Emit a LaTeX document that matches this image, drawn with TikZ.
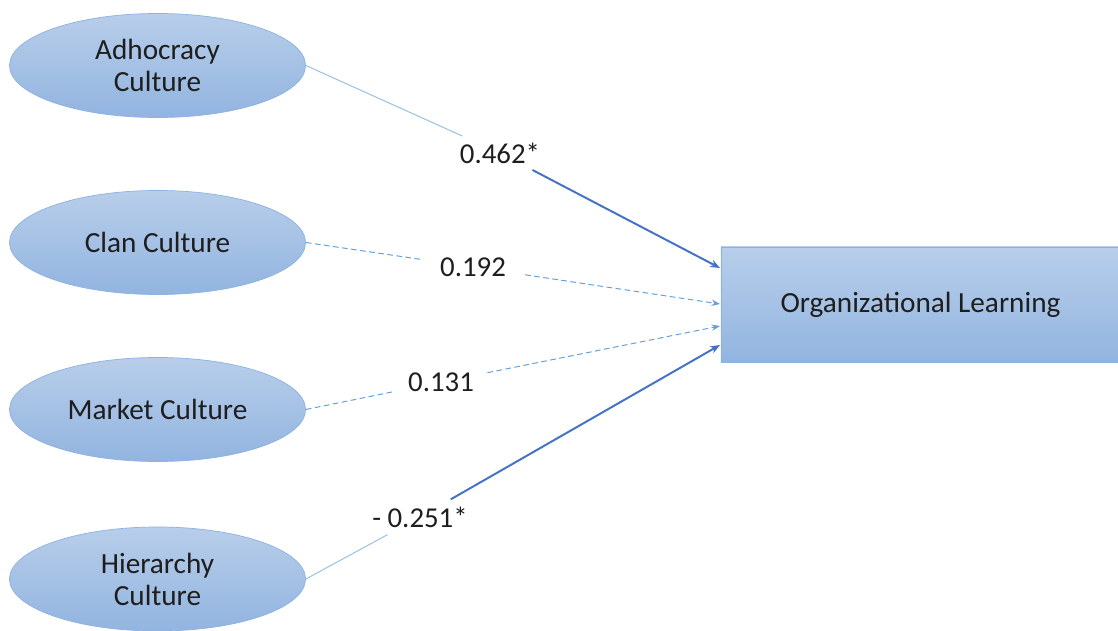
\documentclass[tikz,border=0pt]{standalone}
\usepackage{fontspec}
\setmainfont{Carlito}
\usetikzlibrary{arrows.meta,shapes.geometric}
\definecolor{ftop}{RGB}{184,206,234}
\definecolor{fbot}{RGB}{146,180,224}
\definecolor{edgeblue}{RGB}{140,178,225}
\definecolor{liteblue}{RGB}{157,195,230}
\definecolor{darkblue}{RGB}{68,114,196}
\definecolor{dashblue}{RGB}{100,160,215}
\definecolor{txt}{RGB}{30,30,30}
\begin{document}
\begin{tikzpicture}[x=0.025cm,y=-0.025cm,
  culture/.style={ellipse, draw=edgeblue, line width=0.5pt, top color=ftop, bottom color=fbot,
    minimum width=7.4cm, minimum height=2.6cm, inner sep=0pt, align=center,
    font=\fontsize{20.8}{22.7}\selectfont, text=txt},
  outcome/.style={rectangle, draw=edgeblue, line width=0.5pt, top color=ftop, bottom color=fbot,
    minimum width=9.975cm, minimum height=2.875cm, inner sep=0pt,
    font=\fontsize{20.8}{24}\selectfont, text=txt},
  coef/.style={inner sep=0pt, font=\fontsize{20.5}{24}\selectfont, text=txt},
  thinlink/.style={draw=liteblue, line width=0.75pt},
  thicklink/.style={draw=darkblue, line width=1.4pt, -{Stealth[length=7pt,width=5.5pt]}},
  dashlink/.style={draw=dashblue, line width=0.7pt, dash pattern=on 4pt off 2.5pt},
  dasharrow/.style={dashlink, -{Stealth[length=6pt,width=4.5pt]}}
]
\useasboundingbox (0,0) rectangle (1118,631);

\node[culture] (adh) at (157.5,65.5) {Adhocracy\\Culture};
\node[culture] (clan) at (157.5,242.5) {Clan Culture};
\node[culture] (mkt) at (157.5,409.5) {Market Culture};
\node[culture] (hier) at (157.5,579) {Hierarchy\\Culture};

\node[outcome] (ol) at (920.5,304.5) {Organizational Learning};

\coordinate (e1) at (720,268);
\coordinate (e2) at (720,304);
\coordinate (e3) at (720,326);
\coordinate (e4) at (720,345);

\node[coef, inner xsep=2pt, inner ysep=4.5pt] (l1) at (500,153) {0.462*};
\node[coef, inner xsep=13.5pt, inner ysep=3pt] (l2) at (473,267) {0.192};
\node[coef, inner xsep=9.5pt, inner ysep=3pt] (l3) at (441,382) {0.131};
\node[coef, inner xsep=2pt, inner ysep=5pt] (l4) at (420,517) {- 0.251*};

\draw[thinlink] (adh.east) -- (l1);
\draw[thicklink] (l1) -- (e1);

\draw[dashlink] (clan.east) -- (l2);
\draw[dasharrow] (l2) -- (e2);

\draw[dashlink] (mkt.east) -- (l3);
\draw[dasharrow] (l3) -- (e3);

\draw[thinlink] (hier.east) -- (l4);
\draw[thicklink] (l4) -- (e4);
\end{tikzpicture}
\end{document}
